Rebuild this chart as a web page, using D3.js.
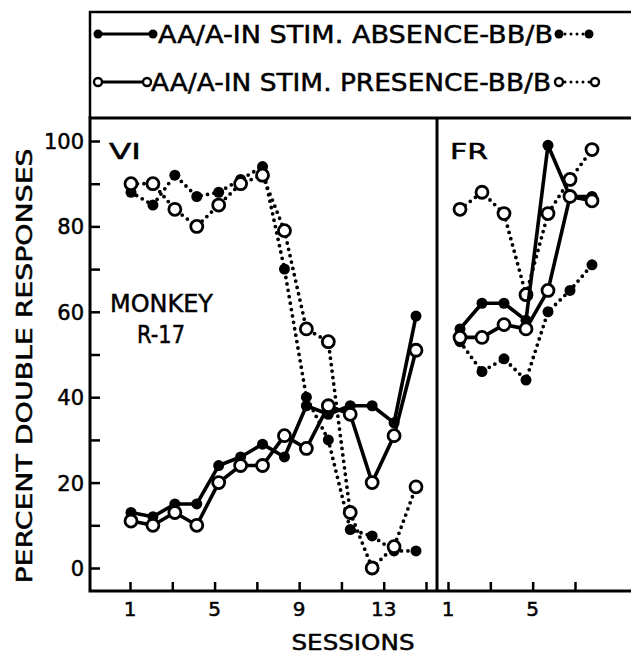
<!DOCTYPE html>
<html>
<head>
<meta charset="utf-8">
<script src="https://cdn.jsdelivr.net/npm/d3@7"></script>
<style>
  html, body { margin: 0; padding: 0; background: #fff; }
  text { font-family: "DejaVu Sans", "Liberation Sans", sans-serif; fill: #000; stroke: #000; stroke-width: 0.5px; }
</style>
</head>
<body>
<div id="chart"></div>
<script>
// Sessions for each phase
var vi_sessions = [1, 2, 3, 4, 5, 6, 7, 8, 9, 10, 11, 12, 13, 14];
var fr_sessions = [1, 2, 3, 4, 5, 6, 7];

// VI phase, percent double responses
var vi_absence_aa  = [13, 12, 15, 15, 24, 26, 29, 26, 38, 36, 38, 38, 34, 59];
var vi_presence_aa = [11, 10, 13, 10, 20, 24, 24, 31, 28, 38, 36, 20, 31, 51];
var vi_absence_bb  = [88, 85, 92, 87, 88, 91, 94, 70, 40, 30, 9, 7.5, 4, 4];
var vi_presence_bb = [90, 90, 84, 80, 85, 90, 92, 79, 56, 53, 13, 0, 5, 19];

// FR phase
var fr_absence_aa  = [56, 62, 62, 58, 99, 87, 87];
var fr_presence_aa = [54, 54, 57, 56, 65, 87, 86];
var fr_absence_bb  = [53, 46, 49, 44, 60, 65, 71];
var fr_presence_bb = [84, 88, 83, 64, 83, 91, 98];

var y_ticks = [0, 10, 20, 30, 40, 50, 60, 70, 80, 90, 100];
var y_tick_labels = [0, 20, 40, 60, 80, 100];
var vi_ticks = [1, 3, 5, 7, 9, 11, 13, 15];
var vi_tick_labels = [1, 5, 9, 13];
var fr_ticks = [1, 3, 5, 7];
var fr_tick_labels = [1, 5];

var legend_absence = "AA/A-IN  STIM.  ABSENCE-BB/B";
var legend_presence = "AA/A-IN  STIM. PRESENCE-BB/B";

var W = 631, H = 654;
var LEFT = 90, TOP = 118, BOTTOM = 591, DIVIDER = 437;

var svg = d3.select("#chart").append("svg")
  .attr("width", W).attr("height", H);

var y = d3.scaleLinear().domain([0, 100]).range([568, 141]);

// points sit a little to the right of the tick marks in the original drawing
var x_vi = d3.scaleLinear().domain([1, 14]).range([131, 416]);
var x_fr = d3.scaleLinear().domain([1, 7]).range([460, 592]);
var x_vi_ticks = d3.scaleLinear().domain([1, 15]).range([130, 426]);
var x_fr_ticks = d3.scaleLinear().domain([1, 7]).range([448, 575]);

function draw_frame() {
  var g = svg.append("g").attr("stroke", "#000").attr("fill", "none");
  // legend box
  g.append("path").attr("stroke-width", 2.5)
    .attr("d", "M" + W + ",12H" + LEFT + "V" + TOP);
  // plot box
  g.append("path").attr("stroke-width", 3)
    .attr("d", "M" + W + "," + TOP + "H" + LEFT + "V" + BOTTOM + "H" + W);
  g.append("line").attr("stroke-width", 3)
    .attr("x1", DIVIDER).attr("x2", DIVIDER).attr("y1", TOP).attr("y2", BOTTOM);
}

function draw_axes() {
  // y ticks point inward
  var yAxis = d3.axisRight(y).tickValues(y_ticks).tickSize(10).tickFormat("");
  var gy = svg.append("g").attr("transform", "translate(" + LEFT + ",0)").call(yAxis);
  gy.select(".domain").remove();
  gy.selectAll("line").attr("stroke", "#000").attr("stroke-width", 2.5);

  svg.selectAll(".ylab").data(y_tick_labels).enter().append("text")
    .attr("class", "ylab")
    .attr("x", 84).attr("y", function (d) { return y(d) + 8; })
    .attr("text-anchor", "end")
    .style("font-size", "21px")
    .text(function (d) { return d; });

  // x ticks point up from the base line
  [[x_vi_ticks, vi_ticks, vi_tick_labels], [x_fr_ticks, fr_ticks, fr_tick_labels]].forEach(function (p) {
    var xAxis = d3.axisTop(p[0]).tickValues(p[1]).tickSize(9).tickFormat("");
    var gx = svg.append("g").attr("transform", "translate(0," + BOTTOM + ")").call(xAxis);
    gx.select(".domain").remove();
    gx.selectAll("line").attr("stroke", "#000").attr("stroke-width", 2.5);

    svg.append("g").selectAll("text").data(p[2]).enter().append("text")
      .attr("x", function (d) { return p[0](d); })
      .attr("y", 616)
      .attr("text-anchor", "middle")
      .style("font-size", "20px")
      .text(function (d) { return d; });
  });

  svg.append("text")
    .attr("x", 353).attr("y", 650)
    .attr("text-anchor", "middle")
    .attr("textLength", 123).attr("lengthAdjust", "spacingAndGlyphs")
    .style("font-size", "21px")
    .text("SESSIONS");

  svg.append("text")
    .attr("transform", "translate(32,366) rotate(-90)")
    .attr("text-anchor", "middle")
    .attr("textLength", 435).attr("lengthAdjust", "spacingAndGlyphs")
    .style("font-size", "21px")
    .text("PERCENT DOUBLE RESPONSES");
}

function draw_labels() {
  svg.append("text").attr("x", 109).attr("y", 159)
    .attr("textLength", 32).attr("lengthAdjust", "spacingAndGlyphs")
    .style("font-size", "22px").text("VI");
  svg.append("text").attr("x", 450).attr("y", 159)
    .attr("textLength", 38).attr("lengthAdjust", "spacingAndGlyphs")
    .style("font-size", "22px").text("FR");
  svg.append("text").attr("x", 110).attr("y", 312)
    .attr("textLength", 103).attr("lengthAdjust", "spacingAndGlyphs")
    .style("font-size", "25px").text("MONKEY");
  svg.append("text").attr("x", 137).attr("y", 343)
    .attr("textLength", 48).attr("lengthAdjust", "spacingAndGlyphs")
    .style("font-size", "25px").text("R-17");
}

// One series: line + markers
function draw_series(xs, sessions, values, dotted, filled) {
  var pts = sessions.map(function (s, i) { return [xs(s), y(values[i])]; });
  var line = d3.line();
  var g = svg.append("g");

  g.append("path")
    .attr("d", line(pts))
    .attr("fill", "none")
    .attr("stroke", "#000")
    .attr("stroke-width", dotted ? 3.8 : 3.6)
    .attr("stroke-linecap", "round")
    .attr("stroke-linejoin", "round")
    .attr("stroke-dasharray", dotted ? "0,6.5" : null);

  g.selectAll("circle").data(pts).enter().append("circle")
    .attr("cx", function (d) { return d[0]; })
    .attr("cy", function (d) { return d[1]; })
    .attr("r", filled ? 5.5 : 6)
    .attr("fill", filled ? "#000" : "#fff")
    .attr("stroke", "#000")
    .attr("stroke-width", filled ? 0 : 2.8);
}

function draw_legend() {
  var rows = [
    { y: 34, text: legend_absence, filled: true, x0: 98, x1: 153, d0: 559, d1: 589, tw: 395 },
    { y: 82, text: legend_presence, filled: false, x0: 98, x1: 147, d0: 559, d1: 595, tw: 400 }
  ];
  rows.forEach(function (r) {
    var g = svg.append("g");
    g.append("line").attr("x1", r.x0).attr("x2", r.x1).attr("y1", r.y).attr("y2", r.y)
      .attr("stroke", "#000").attr("stroke-width", 3);
    g.append("line").attr("x1", r.d0).attr("x2", r.d1).attr("y1", r.y).attr("y2", r.y)
      .attr("stroke", "#000").attr("stroke-width", 3)
      .attr("stroke-linecap", "round").attr("stroke-dasharray", "0,6");
    [r.x0, r.x1, r.d0, r.d1].forEach(function (cx) {
      g.append("circle").attr("cx", cx).attr("cy", r.y)
        .attr("r", r.filled ? 4.5 : 4)
        .attr("fill", r.filled ? "#000" : "#fff")
        .attr("stroke", "#000").attr("stroke-width", r.filled ? 0 : 2.4);
    });
    g.append("text")
      .attr("x", r.filled ? 158 : 151).attr("y", r.y + 9)
      .attr("textLength", r.tw).attr("lengthAdjust", "spacingAndGlyphs")
      .style("font-size", "24px")
      .text(r.text);
  });
}

draw_frame();
draw_axes();
draw_labels();
draw_legend();

// dotted BB/B lines first, then solid AA/A on top
draw_series(x_vi, vi_sessions, vi_absence_bb, true, true);
draw_series(x_vi, vi_sessions, vi_presence_bb, true, false);
draw_series(x_vi, vi_sessions, vi_absence_aa, false, true);
draw_series(x_vi, vi_sessions, vi_presence_aa, false, false);

draw_series(x_fr, fr_sessions, fr_absence_bb, true, true);
draw_series(x_fr, fr_sessions, fr_presence_bb, true, false);
draw_series(x_fr, fr_sessions, fr_absence_aa, false, true);
draw_series(x_fr, fr_sessions, fr_presence_aa, false, false);
</script>
</body>
</html>
